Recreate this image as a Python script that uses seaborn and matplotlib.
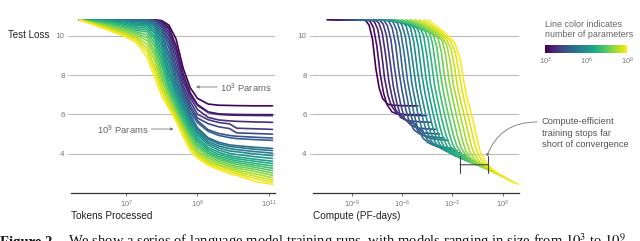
import numpy as np
import pandas as pd
import matplotlib
matplotlib.use("Agg")
import matplotlib.pyplot as plt
import seaborn as sns
from matplotlib.colors import Normalize
from matplotlib.cm import ScalarMappable
from matplotlib.ticker import NullLocator

# log10(tokens processed) at which the loss of every run was read
log_tokens = [5.7, 6.5, 7.0, 7.3, 7.6, 7.8, 8.0, 8.2, 8.4, 8.6, 8.8, 9.0, 9.3, 9.6, 9.9, 10.1, 10.6, 11.1]

# log10(parameters) of the 24 runs, small -> large
log_params = [3.0, 3.26, 3.52, 3.78, 4.04, 4.3, 4.57, 4.83, 5.09, 5.35, 5.61, 5.87,
              6.13, 6.39, 6.65, 6.91, 7.17, 7.43, 7.7, 7.96, 8.22, 8.48, 8.74, 9.0]

# test loss of each run (one row per run, one value per log_tokens entry)
loss_runs = [
    [10.82, 10.82, 10.82, 10.82, 10.82, 10.82, 10.78, 10.55, 9.85, 8.35, 7.35, 6.82, 6.53, 6.47, 6.46, 6.45, 6.44, 6.44],
    [10.82, 10.82, 10.82, 10.82, 10.82, 10.82, 10.75, 10.42, 9.50, 8.07, 7.10, 6.51, 6.13, 6.03, 6.01, 6.00, 5.99, 5.99],
    [10.82, 10.82, 10.82, 10.82, 10.82, 10.82, 10.72, 10.33, 9.30, 7.85, 6.98, 6.46, 6.10, 6.00, 5.97, 5.96, 5.95, 5.94],
    [10.82, 10.82, 10.82, 10.82, 10.82, 10.81, 10.66, 10.17, 9.05, 7.67, 6.84, 6.25, 5.85, 5.72, 5.67, 5.65, 5.62, 5.60],
    [10.82, 10.82, 10.82, 10.82, 10.82, 10.80, 10.60, 10.00, 8.75, 7.45, 6.64, 6.01, 5.73, 5.59, 5.52, 5.30, 5.27, 5.24],
    [10.82, 10.82, 10.82, 10.82, 10.82, 10.78, 10.50, 9.80, 8.45, 7.29, 6.44, 5.82, 5.53, 5.37, 5.28, 5.06, 5.03, 5.00],
    [10.82, 10.82, 10.82, 10.82, 10.81, 10.75, 10.42, 9.62, 8.22, 7.17, 6.30, 5.69, 5.22, 5.03, 4.93, 4.89, 4.84, 4.80],
    [10.82, 10.82, 10.82, 10.81, 10.80, 10.71, 10.30, 9.40, 7.95, 7.00, 6.12, 5.58, 5.14, 4.93, 4.82, 4.77, 4.72, 4.68],
    [10.82, 10.82, 10.82, 10.79, 10.78, 10.65, 10.15, 9.10, 7.72, 6.82, 5.98, 5.32, 4.81, 4.58, 4.45, 4.41, 4.33, 4.27],
    [10.82, 10.81, 10.80, 10.76, 10.75, 10.58, 10.00, 8.90, 7.56, 6.69, 5.86, 5.26, 4.74, 4.50, 4.37, 4.33, 4.23, 4.16],
    [10.82, 10.81, 10.78, 10.72, 10.70, 10.50, 9.85, 8.60, 7.37, 6.53, 5.75, 5.17, 4.63, 4.39, 4.26, 4.21, 4.11, 4.03],
    [10.82, 10.80, 10.75, 10.66, 10.63, 10.40, 9.65, 8.30, 7.20, 6.39, 5.63, 5.07, 4.54, 4.29, 4.14, 4.10, 3.99, 3.90],
    [10.82, 10.79, 10.70, 10.59, 10.56, 10.28, 9.45, 8.07, 7.08, 6.27, 5.54, 4.97, 4.44, 4.18, 4.02, 3.96, 3.85, 3.76],
    [10.82, 10.77, 10.64, 10.52, 10.50, 10.15, 9.20, 7.85, 6.92, 6.12, 5.40, 4.83, 4.31, 4.07, 3.90, 3.84, 3.72, 3.62],
    [10.82, 10.74, 10.58, 10.44, 10.40, 10.00, 8.95, 7.60, 6.76, 5.97, 5.27, 4.71, 4.21, 3.96, 3.81, 3.74, 3.62, 3.50],
    [10.82, 10.70, 10.51, 10.36, 10.30, 9.85, 8.70, 7.42, 6.59, 5.84, 5.15, 4.61, 4.11, 3.86, 3.72, 3.64, 3.51, 3.38],
    [10.82, 10.65, 10.44, 10.28, 10.20, 9.65, 8.45, 7.30, 6.48, 5.72, 5.04, 4.49, 4.02, 3.79, 3.63, 3.55, 3.41, 3.26],
    [10.82, 10.60, 10.37, 10.20, 10.05, 9.45, 8.15, 7.14, 6.32, 5.60, 4.91, 4.39, 3.96, 3.71, 3.55, 3.46, 3.31, 3.14],
    [10.82, 10.55, 10.30, 10.12, 9.90, 9.20, 7.90, 6.99, 6.18, 5.48, 4.79, 4.27, 3.87, 3.62, 3.46, 3.36, 3.21, 3.02],
    [10.82, 10.50, 10.23, 10.03, 9.75, 9.00, 7.75, 6.88, 6.10, 5.38, 4.68, 4.14, 3.77, 3.53, 3.37, 3.27, 3.10, 2.90],
    [10.82, 10.45, 10.16, 9.94, 9.55, 8.75, 7.50, 6.75, 5.98, 5.26, 4.56, 4.06, 3.67, 3.44, 3.28, 3.17, 2.98, 2.78],
    [10.82, 10.40, 10.09, 9.85, 9.35, 8.45, 7.35, 6.56, 5.90, 5.16, 4.42, 3.96, 3.58, 3.38, 3.20, 3.08, 2.86, 2.66],
    [10.82, 10.35, 10.02, 9.75, 9.15, 8.20, 7.20, 6.44, 5.76, 5.04, 4.31, 3.88, 3.50, 3.28, 3.10, 2.99, 2.74, 2.55],
    [10.82, 10.30, 9.95, 9.65, 8.90, 7.90, 6.95, 6.31, 5.67, 4.88, 4.15, 3.78, 3.41, 3.18, 2.99, 2.90, 2.60, 2.44],
]

# compute C = 6 N D, expressed in PF-days
FLOP_PER_PARAM_TOKEN = 6
PF_DAY = 8.64e19

W, H = 640, 241
GREY_TXT = "#777777"


def fx(px):
    return px / W


def fy(py):
    return 1 - py / H


def build_frame():
    rows = []
    for lp, losses in zip(log_params, loss_runs):
        for lt, loss in zip(log_tokens, losses):
            rows.append({
                "logN": lp,
                "tokens": 10 ** lt,
                "compute": FLOP_PER_PARAM_TOKEN * 10 ** (lp + lt) / PF_DAY,
                "loss": loss,
            })
    return pd.DataFrame(rows)


def style_axis(ax, xticks, xlabels, xlim):
    ax.set_xscale("log")
    ax.set_xlim(*xlim)
    ax.set_ylim(2.0, 11.0)
    ax.set_xticks(xticks)
    ax.set_xticklabels(xlabels)
    ax.xaxis.set_minor_locator(NullLocator())
    ax.set_yticks([4, 6, 8, 10])
    ax.set_yticklabels(["4", "6", "8", "10"])
    ax.set_xlabel("")
    ax.set_ylabel("")
    ax.yaxis.grid(True, color="#bbbbbb", lw=0.8)
    ax.xaxis.grid(False)
    ax.set_axisbelow(True)
    for s in ("top", "right", "left"):
        ax.spines[s].set_visible(False)
    ax.spines["bottom"].set_color("#333333")
    ax.spines["bottom"].set_linewidth(0.9)
    ax.tick_params(axis="x", bottom=True, length=2.5, width=0.6, color="#555555",
                   labelsize=5.3, labelcolor=GREY_TXT, pad=1.5)
    ax.tick_params(axis="y", left=True, length=3, width=0.6, color="#bbbbbb",
                   labelsize=5.8, labelcolor=GREY_TXT, pad=1.5)


sns.set_theme(style="white")
plt.rcParams["font.family"] = ["Liberation Sans", "DejaVu Sans"]
plt.rcParams["mathtext.fontset"] = "stix"

df = build_frame()

fig = plt.figure(figsize=(W / 100, H / 100), dpi=100)
ax1 = fig.add_axes([fx(71), fy(193), fx(204), (193 - 16.3) / H])
ax2 = fig.add_axes([fx(313), fy(193), fx(206), (193 - 16.3) / H])

for ax, xcol in ((ax1, "tokens"), (ax2, "compute")):
    sns.lineplot(data=df, x=xcol, y="loss", hue="logN", palette="viridis",
                 hue_norm=(3, 9), estimator=None, sort=False, legend=False,
                 lw=1.2, ax=ax)

style_axis(ax1, [1e7, 1e9, 1e11],
           [r"$\mathdefault{10^{7}}$", r"$\mathdefault{10^{9}}$", r"$\mathdefault{10^{11}}$"],
           (10 ** 5.46, 10 ** 11.17))
style_axis(ax2, [1e-9, 1e-6, 1e-3, 1e0],
           [r"$\mathdefault{10^{-9}}$", r"$\mathdefault{10^{-6}}$",
            r"$\mathdefault{10^{-3}}$", r"$\mathdefault{10^{0}}$"],
           (10 ** -11.3, 10 ** 0.97))

# axis titles
fig.text(fx(8), fy(35), "Test Loss", fontsize=7, color="#222222", va="center")
fig.text(fx(71), fy(216), "Tokens Processed", fontsize=7.2, color="#222222", va="center")
fig.text(fx(313), fy(216), "Compute (PF-days)", fontsize=7.2, color="#222222", va="center")

# left panel call-outs
arrow = dict(arrowstyle="-|>", color="#777777", lw=0.6, mutation_scale=4, shrinkA=0, shrinkB=0)
ax1.annotate("", xy=(10 ** 8.96, 7.4), xytext=(10 ** 9.55, 7.4), arrowprops=arrow)
ax1.text(10 ** 9.62, 7.4, r"$\mathdefault{10^{3}}$ Params", fontsize=6.8, color="#666666",
         va="center_baseline", ha="left")
ax1.annotate("", xy=(10 ** 8.33, 5.26), xytext=(10 ** 7.71, 5.26), arrowprops=arrow)
ax1.text(10 ** 7.63, 5.26, r"$\mathdefault{10^{9}}$ Params", fontsize=6.8, color="#666666",
         va="center_baseline", ha="right")

# right panel: bracket + curved arrow + note
ax2.annotate("", xy=(10 ** -2.54, 3.44), xytext=(10 ** -0.86, 3.44),
             arrowprops=dict(arrowstyle="|-|,widthA=0.5,widthB=0.5", color="#444444",
                             lw=0.8, shrinkA=0, shrinkB=0))
ax2.annotate("", xy=(10 ** -0.95, 3.86), xytext=(fx(537), fy(122)),
             textcoords="figure fraction", annotation_clip=False,
             arrowprops=dict(arrowstyle="-|>", connectionstyle="arc3,rad=0.35",
                             color="#777777", lw=0.6, mutation_scale=4,
                             shrinkA=0, shrinkB=0))
fig.text(fx(542), fy(133), "Compute-efficient\ntraining stops far\nshort of convergence",
         fontsize=6.7, color="#555555", va="center", ha="left", linespacing=1.3)

# colour bar for model size
fig.text(fx(545), fy(20), "Line color indicates\nnumber of parameters", fontsize=6.4,
         color="#666666", va="top", ha="left", linespacing=1.1)
cax = fig.add_axes([fx(545), fy(53.3), fx(82), 8.3 / H])
cb = fig.colorbar(ScalarMappable(norm=Normalize(3, 9), cmap="viridis"), cax=cax,
                  orientation="horizontal")
cb.outline.set_visible(False)
cb.set_ticks([3, 6, 9])
cb.set_ticklabels([r"$\mathdefault{10^{3}}$", r"$\mathdefault{10^{6}}$", r"$\mathdefault{10^{9}}$"])
cax.tick_params(length=0, labelsize=5.3, labelcolor=GREY_TXT, pad=1.5)

# caption line, cut by the bottom edge as in the source
fig.text(0.0, fy(246.5), "Figure 2", fontsize=10.5, fontweight="bold",
         family="Liberation Serif", va="baseline", color="#111111")
fig.text(fx(68), fy(246.5),
         "We show a series of language model training runs, with models ranging in size from $10^3$ to $10^9$",
         fontsize=10.5, family="Liberation Serif", va="baseline", color="#111111")

fig.savefig("out.png", dpi=100)
